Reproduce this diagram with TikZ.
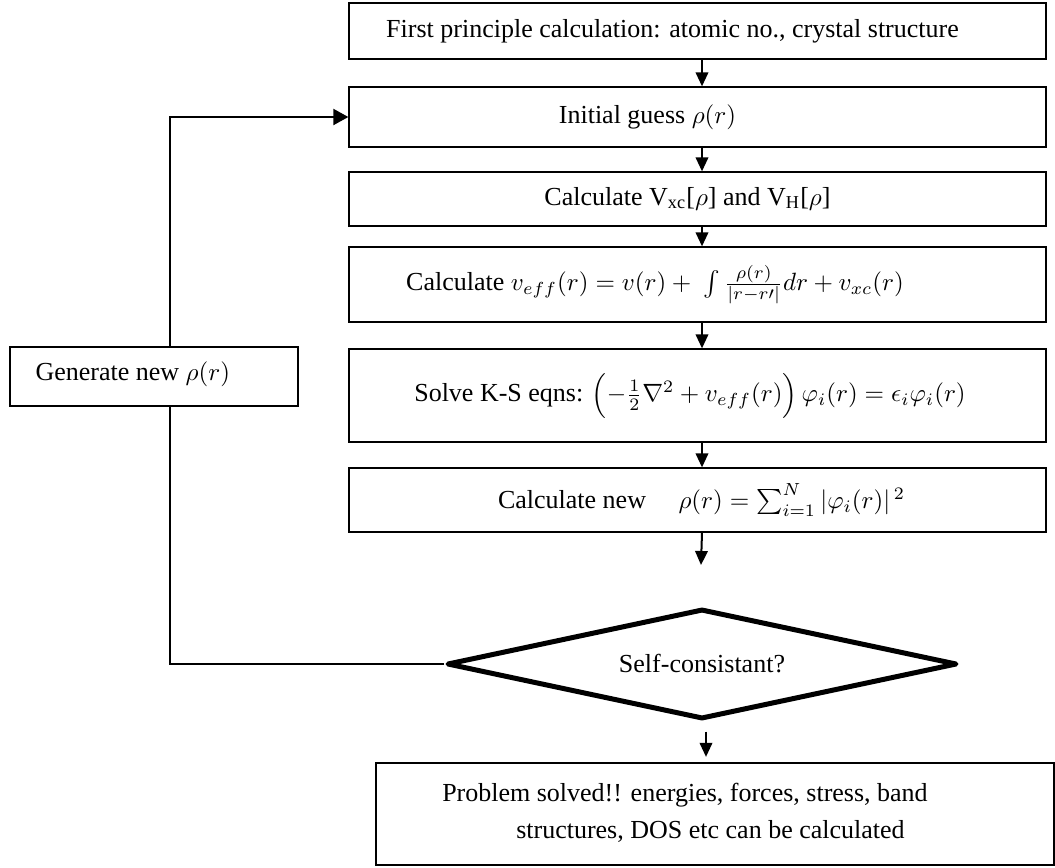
\documentclass[tikz,border=0pt]{standalone}
\usepackage{fontspec}
\setmainfont{Liberation Serif}
\usetikzlibrary{shapes.geometric,arrows.meta}
\newcommand\shiftxt[3]{\raisebox{#2}{\hspace*{#1}#3\hspace*{-#1}}}
\begin{document}
\begin{tikzpicture}[x=0.4pt,y=-0.4pt,
  box/.style={draw=black,line width=0.5pt,rectangle,inner sep=0pt,font=\fontsize{10.4}{12.5}\selectfont},
  mainbox/.style={box,minimum width=278.8pt},
  decision/.style={draw=black,diamond,aspect=4.64,line width=2pt,line join=round,inner sep=0pt,
    minimum width=204pt,minimum height=44pt,font=\fontsize{10.4}{12.5}\selectfont},
  arr/.style={line width=0.8pt,-{Triangle[length=5.6pt,width=5pt]}},
  bigarr/.style={line width=0.8pt,-{Triangle[length=6pt,width=6.4pt]}},
  loopline/.style={line width=0.8pt}]
\useasboundingbox (0,0) rectangle (1055,868);

\node[mainbox,minimum height=22.4pt] (b1) at (697.5,31)
  {\shiftxt{-10pt}{0pt}{First principle calculation: atomic no., crystal structure}};
\node[mainbox,minimum height=24pt] (b2) at (697.5,117)
  {\shiftxt{-20pt}{2pt}{Initial guess $\rho(r)$}};
\node[mainbox,minimum height=21.6pt] (b3) at (697.5,199)
  {\shiftxt{-4pt}{2.4pt}{Calculate V\textsubscript{xc}[$\rho$] and V\textsubscript{H}[$\rho$]}};
\node[mainbox,minimum height=30pt] (b4) at (697.5,284.5)
  {\shiftxt{-17pt}{0pt}{Calculate $v_{eff}(r) = v(r) +\ \int\frac{\rho(r)}{|r-r\prime|}dr + v_{xc}(r)$}};
\node[mainbox,minimum height=37.2pt] (b5) at (697.5,395.5)
  {\shiftxt{-3pt}{1pt}{Solve K-S eqns: $\Bigl(-\frac{1}{2}\nabla^2 + v_{eff}(r)\Bigr)\,\varphi_i(r) = \epsilon_i\varphi_i(r)$}};
\node[mainbox,minimum height=25.6pt] (b6) at (697.5,500)
  {\shiftxt{1.6pt}{0pt}{Calculate new\quad\ $\rho(r) = \sum_{i=1}^{N}|\varphi_i(r)|^{\,2}$}};
\node[decision] (d) at (702,664) {Self-consistant?};
\node[box,minimum width=271.2pt,minimum height=40.8pt] (b7) at (715,814)
  {\shiftxt{-12pt}{2.2pt}{\begin{tabular}{@{}l@{}}Problem solved!! energies, forces, stress, band\\[2.2pt]
   \hspace*{29.6pt}structures, DOS etc can be calculated\end{tabular}}};
\node[box,minimum width=115.2pt,minimum height=23.6pt] (gen) at (154,376.5)
  {\shiftxt{-8.5pt}{4pt}{Generate new $\rho(r)$}};

\coordinate (e6) at (701,565);
\coordinate (cl) at (170,664);

\draw[arr] (b1.south -| d.north) -- (b2.north -| d.north);
\draw[arr] (b2.south -| d.north) -- (b3.north -| d.north);
\draw[arr] (b3.south -| d.north) -- (b4.north -| d.north);
\draw[arr] (b4.south -| d.north) -- (b5.north -| d.north);
\draw[arr] (b5.south -| d.north) -- (b6.north -| d.north);
\draw[arr] (b6.south -| d.north) -- (e6);
\draw[arr,shorten <=4pt,shorten >=2.2pt] ([xshift=1.6pt]d.south) -- ([xshift=1.6pt]d.south |- b7.north);
\draw[loopline] (d.west) -- (d.west -| cl) -- (cl |- gen.south);
\draw[bigarr] (cl |- gen.north) |- (b2.west);
\end{tikzpicture}
\end{document}
